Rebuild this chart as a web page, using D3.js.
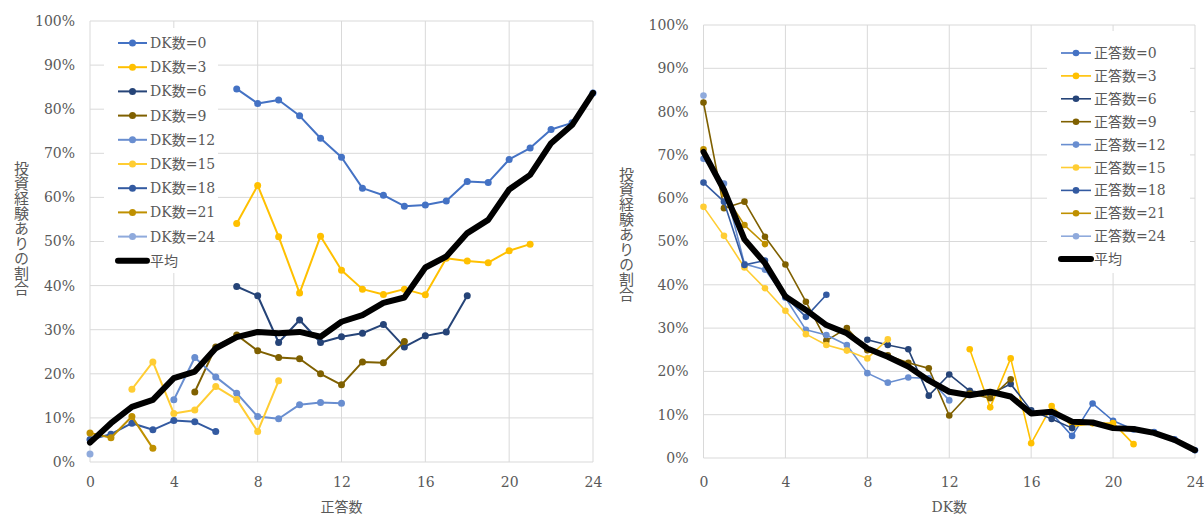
<!DOCTYPE html>
<html lang="ja">
<head>
<meta charset="UTF-8">
<title>投資経験ありの割合</title>
<script src="https://cdn.jsdelivr.net/npm/d3@7"></script>
<style>
  * { margin: 0; padding: 0; }
  body { background: #fff; }
  svg { display: block; }
</style>
</head>
<body>
<svg id="chart" width="1204" height="516"></svg>
<script>
var FONT = "'DejaVu Serif', 'Liberation Serif', 'Noto Sans CJK JP', serif";
var TEXT = '#595959';
var GRID = '#d9d9d9';

var counts = [0, 3, 6, 9, 12, 15, 18, 21, 24];
var colors = ['#4472C4', '#FFC000', '#264478', '#7F6000', '#698ED0', '#FFCD33', '#335AA1', '#BF9000', '#8FAADC'];
var xTicks = [0, 4, 8, 12, 16, 20, 24];
var yTicks = [0, 10, 20, 30, 40, 50, 60, 70, 80, 90, 100];

// 左: DK数ごと、x = 正答数 (値は%)
var dkStart = [7, 7, 7, 5, 4, 2, 0, 0, 0];
var dk0  = [84.6, 81.3, 82.1, 78.5, 73.4, 69.1, 62.1, 60.5, 58.0, 58.3, 59.2, 63.6, 63.4, 68.6, 71.2, 75.4, 76.9, 83.7];
var dk3  = [54.1, 62.7, 51.1, 38.3, 51.2, 43.5, 39.2, 38.0, 39.2, 37.9, 46.2, 45.6, 45.2, 47.9, 49.4];
var dk6  = [39.8, 37.7, 27.1, 32.2, 27.1, 28.4, 29.2, 31.2, 26.1, 28.6, 29.5, 37.7];
var dk9  = [15.9, 26.1, 28.8, 25.2, 23.7, 23.4, 20.0, 17.5, 22.7, 22.5, 27.3];
var dk12 = [14.1, 23.7, 19.3, 15.6, 10.3, 9.8, 13.0, 13.5, 13.3];
var dk15 = [16.5, 22.7, 11.0, 11.8, 17.1, 14.2, 6.9, 18.4];
var dk18 = [5.1, 6.3, 8.8, 7.3, 9.4, 9.1, 6.9];
var dk21 = [6.6, 5.5, 10.3, 3.1];
var dk24 = [1.8];
var leftAvg = [4.4, 8.8, 12.5, 14.1, 19.0, 20.5, 25.8, 28.3, 29.5, 29.2, 29.5, 28.4, 31.8, 33.3, 36.1, 37.3,
               44.1, 46.6, 51.9, 54.9, 61.8, 65.1, 72.3, 76.4, 83.7];

// 右: 正答数ごと、x = DK数 (値は%)
var seiStart = [17, 13, 8, 0, 0, 0, 0, 0, 0];
var sei0  = [10.3, 5.1, 12.6, 8.6, 6.6, 6.0, 4.3, 1.8];
var sei3  = [25.1, 11.7, 23.0, 3.4, 12.0, 7.3, 8.0, 8.1, 3.2];
var sei6  = [27.3, 26.1, 25.1, 14.4, 19.3, 15.5, 14.8, 17.1, 11.0, 9.0, 6.9];
var sei9  = [82.1, 57.7, 59.2, 51.1, 44.7, 36.1, 27.1, 30.0, 24.9, 23.7, 22.0, 20.7, 9.8, 14.9, 13.8, 18.2];
var sei12 = [69.1, 63.4, 44.8, 43.5, 37.0, 29.6, 28.4, 26.1, 19.6, 17.4, 18.6, 18.4, 13.3];
var sei15 = [58.0, 51.3, 44.0, 39.2, 34.0, 28.6, 26.1, 24.8, 23.0, 27.4];
var sei18 = [63.6, 59.2, 44.6, 45.6, 37.2, 32.6, 37.7];
var sei21 = [71.3, 61.0, 53.8, 49.4];
var sei24 = [83.7];
var rightAvg = [70.7, 61.9, 50.5, 45.0, 37.3, 34.2, 30.7, 28.8, 25.3, 23.4, 21.1, 17.9, 15.3, 14.5, 15.3, 14.2,
                10.3, 10.7, 8.4, 8.2, 6.9, 6.7, 5.8, 4.2, 1.8];

var svg = d3.select('#chart');
svg.append('rect').attr('width', 1204).attr('height', 516).attr('fill', '#fff');

function makeSeries(prefix, starts, lists) {
  return lists.map(function(v, i) {
    return { label: prefix + counts[i], color: colors[i], start: starts[i], values: v };
  });
}

function panel(p) {
  var x = d3.scaleLinear().domain([0, 24]).range([p.left, p.right]);
  var y = d3.scaleLinear().domain([0, 100]).range([p.bottom, p.top]);
  var g = svg.append('g');

  // grid
  g.append('g').selectAll('line').data(yTicks).join('line')
    .attr('x1', p.left).attr('x2', p.right)
    .attr('y1', function(d) { return y(d); }).attr('y2', function(d) { return y(d); })
    .attr('stroke', GRID).attr('stroke-width', 1);
  g.append('g').selectAll('line').data(xTicks).join('line')
    .attr('x1', function(d) { return x(d); }).attr('x2', function(d) { return x(d); })
    .attr('y1', p.top).attr('y2', p.bottom)
    .attr('stroke', GRID).attr('stroke-width', 1);

  // axes
  var ya = g.append('g').attr('transform', 'translate(' + p.left + ',0)')
    .call(d3.axisLeft(y).tickValues(yTicks).tickSize(0).tickPadding(15).tickFormat(function(d) { return d + '%'; }));
  var xa = g.append('g').attr('transform', 'translate(0,' + p.bottom + ')')
    .call(d3.axisBottom(x).tickValues(xTicks).tickSize(0).tickPadding(p.xPad).tickFormat(d3.format('d')));
  [ya, xa].forEach(function(a) {
    a.select('.domain').remove();
    a.attr('font-family', FONT).attr('font-size', 14);
    a.selectAll('text').attr('fill', TEXT);
  });

  // titles
  g.append('text')
    .attr('x', (p.left + p.right) / 2).attr('y', p.xTitleY)
    .attr('text-anchor', 'middle').attr('font-family', FONT).attr('font-size', 14).attr('fill', TEXT)
    .text(p.xTitle);
  g.append('text')
    .attr('x', p.yTitleX).attr('y', p.yTitleY)
    .attr('text-anchor', 'middle').attr('font-family', FONT).attr('font-size', 15).attr('fill', TEXT)
    .style('writing-mode', 'vertical-rl')
    .text('投資経験ありの割合');

  // series
  var line = function(s) {
    return d3.line().x(function(d, i) { return x(s.start + i); }).y(function(d) { return y(d); })(s.values);
  };
  p.series.forEach(function(s) {
    var sg = g.append('g');
    sg.append('path').attr('d', line(s)).attr('fill', 'none')
      .attr('stroke', s.color).attr('stroke-width', p.lw).attr('stroke-linejoin', 'round');
    sg.selectAll('circle').data(s.values).join('circle')
      .attr('cx', function(d, i) { return x(s.start + i); })
      .attr('cy', function(d) { return y(d); })
      .attr('r', p.r).attr('fill', s.color);
  });
  g.append('path').attr('d', line({ start: 0, values: p.avg })).attr('fill', 'none')
    .attr('stroke', '#000').attr('stroke-width', 6)
    .attr('stroke-linejoin', 'round').attr('stroke-linecap', 'round');

  // legend
  var L = p.legend;
  var lg = g.append('g');
  lg.append('rect').attr('x', L.x).attr('y', L.y).attr('width', L.w).attr('height', L.h).attr('fill', '#fff');
  var items = p.series.map(function(s) { return { label: s.label, color: s.color, avg: false }; })
    .concat([{ label: '平均', color: '#000', avg: true }]);
  var it = lg.selectAll('g').data(items).join('g')
    .attr('transform', function(d, i) { return 'translate(0,' + (L.first + i * L.step) + ')'; });
  it.append('line').attr('x1', L.lx1).attr('x2', L.lx2)
    .attr('stroke', function(d) { return d.color; })
    .attr('stroke-width', function(d) { return d.avg ? 6 : p.lw; })
    .attr('stroke-linecap', function(d) { return d.avg ? 'round' : 'butt'; });
  it.filter(function(d) { return !d.avg; }).append('circle')
    .attr('cx', (L.lx1 + L.lx2) / 2).attr('r', p.r).attr('fill', function(d) { return d.color; });
  it.append('text').attr('x', L.lx2 + 3).attr('y', 5)
    .attr('font-family', FONT).attr('font-size', 14).attr('fill', TEXT)
    .text(function(d) { return d.label; });
}

panel({
  left: 90, right: 593, top: 21, bottom: 462, xPad: 15,
  xTitle: '正答数', xTitleY: 512, yTitleX: 20, yTitleY: 228,
  lw: 2, r: 3.5,
  series: makeSeries('DK数=', dkStart, [dk0, dk3, dk6, dk9, dk12, dk15, dk18, dk21, dk24]),
  avg: leftAvg,
  legend: { x: 104, y: 28, w: 114, h: 245, first: 43, step: 24.2, lx1: 118, lx2: 147 }
});

panel({
  left: 703.5, right: 1195, top: 25, bottom: 458, xPad: 19,
  xTitle: 'DK数', xTitleY: 512, yTitleX: 625, yTitleY: 234,
  lw: 1.6, r: 3.3,
  series: makeSeries('正答数=', seiStart, [sei0, sei3, sei6, sei9, sei12, sei15, sei18, sei21, sei24]),
  avg: rightAvg,
  legend: { x: 1047, y: 31, w: 143, h: 242, first: 53, step: 22.9, lx1: 1061, lx2: 1091 }
});
</script>
</body>
</html>
